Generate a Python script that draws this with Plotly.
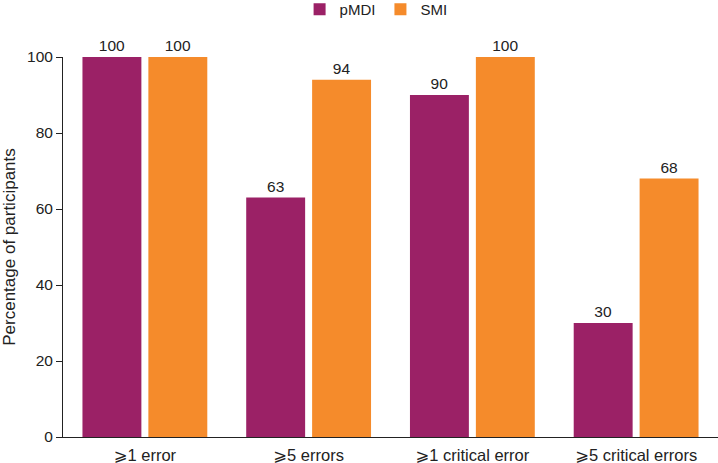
import plotly.graph_objects as go

categories = ["⩾1 error", "⩾5 errors", "⩾1 critical error", "⩾5 critical errors"]
pmdi = [100, 63, 90, 30]
smi = [100, 94, 100, 68]

FONT = "Liberation Sans, DejaVu Sans, Arial, sans-serif"
fig = go.Figure()
fig.add_trace(go.Bar(name="pMDI", x=categories, y=pmdi, marker_color="#9B2166",
                     marker_line_width=0, text=pmdi, textposition="outside",
                     cliponaxis=False, textfont=dict(size=15.5, color="#222")))
fig.add_trace(go.Bar(name="SMI", x=categories, y=smi, marker_color="#F58B2B",
                     marker_line_width=0, text=smi, textposition="outside",
                     cliponaxis=False, textfont=dict(size=15.5, color="#222")))

fig.update_layout(
    width=718, height=463,
    margin=dict(l=63, r=0, t=57, b=26, autoexpand=False),
    paper_bgcolor="white", plot_bgcolor="white",
    font=dict(family=FONT, size=15, color="#222"),
    barmode="group", bargap=0.195, bargroupgap=0.106,
    showlegend=True,
    legend=dict(orientation="h", x=0.478, xanchor="center", y=1.125, yanchor="middle",
                xref="paper", yref="paper", font=dict(size=15), itemwidth=30,
                traceorder="normal", bgcolor="rgba(0,0,0,0)"),
    xaxis=dict(showline=True, linecolor="#222", linewidth=1, ticks="",
               tickfont=dict(size=16.5), showgrid=False, automargin=False,
               ticklabelstandoff=3),
    yaxis=dict(range=[0, 100], showline=True, linecolor="#222", linewidth=1,
               ticks="outside", ticklen=6, tickcolor="#222", dtick=20,
               showgrid=False, zeroline=False, tickfont=dict(size=15.5), automargin=False,
               title=dict(text="Percentage of participants", font=dict(size=17))),
)
fig.write_html("out.html", config={"displayModeBar": False},
               post_script="document.body.style.margin='0';document.body.style.overflow='hidden';")
